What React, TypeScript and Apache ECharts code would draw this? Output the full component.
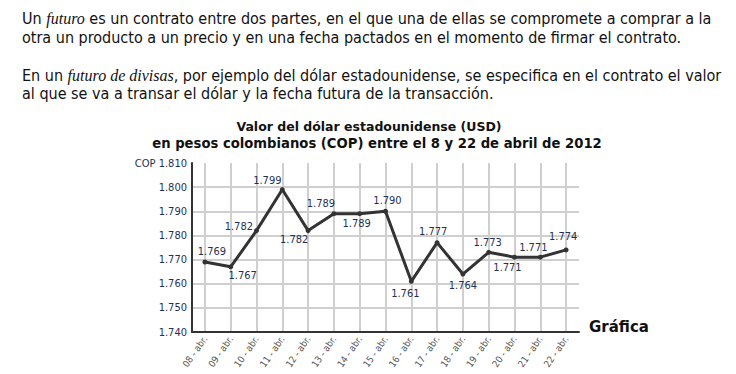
import React, { useEffect, useRef } from "react";
import * as echarts from "echarts";

const categories = [
  "08 - abr.", "09 - abr.", "10 - abr.", "11 - abr.", "12 - abr.",
  "13 - abr.", "14 - abr.", "15 - abr.", "16 - abr.", "17 - abr.",
  "18 - abr.", "19 - abr.", "20 - abr.", "21 - abr.", "22 - abr.",
];
const values = [1769, 1767, 1782, 1799, 1782, 1789, 1789, 1790, 1761, 1777, 1764, 1773, 1771, 1771, 1774];
const yMin = 1740;
const yMax = 1810;
const yStep = 10;

const titleLines = [
  "Valor del dólar estadounidense (USD)",
  "en pesos colombianos (COP) entre el 8 y 22 de abril de 2012",
];

// label placement per point (style only)
const labelPlacement: { pos: string; off: [number, number] }[] = [
  { pos: "top", off: [7, 1] },
  { pos: "bottom", off: [12, -2] },
  { pos: "left", off: [2, -4] },
  { pos: "top", off: [-15, 2] },
  { pos: "bottom", off: [-14, -2] },
  { pos: "top", off: [-13, 1] },
  { pos: "bottom", off: [-3, -1] },
  { pos: "top", off: [2, 0] },
  { pos: "bottom", off: [-6, 1] },
  { pos: "top", off: [-4, 0] },
  { pos: "bottom", off: [0, 0] },
  { pos: "top", off: [-1, 1] },
  { pos: "bottom", off: [-7, -1] },
  { pos: "top", off: [-7, 1] },
  { pos: "top", off: [-3, -2] },
];

const fmt = (v: number) => {
  const s = String(v);
  return s.slice(0, s.length - 3) + "." + s.slice(s.length - 3);
};

const NAVY = "#1f3158";
const NARROW = "'Liberation Sans Narrow', 'DejaVu Sans Condensed', 'Liberation Sans', sans-serif";

export default function App() {
  const ref = useRef<HTMLDivElement>(null);
  useEffect(() => {
    if (!ref.current) return;
    const chart = echarts.init(ref.current, null, { renderer: "svg" });
    const nTicks = Math.round((yMax - yMin) / yStep) + 1;
    const splitColors = Array.from({ length: nTicks }, (_, i) =>
      i === nTicks - 1 ? "rgba(0,0,0,0)" : "#cfcfcf"
    );
    const bodyFont = "'Liberation Sans Narrow', 'DejaVu Sans Condensed', sans-serif";
    const rich = {
      n: { fontFamily: bodyFont, fontSize: 16, fill: "#111" },
      i: { fontFamily: "'Liberation Serif', serif", fontStyle: "italic", fontSize: 16, fill: "#111" },
    };
    chart.setOption({
      animation: false,
      graphic: [
        {
          type: "text",
          left: 22,
          top: 9,
          style: {
            text:
              "{n|Un }{i|futuro}{n| es un contrato entre dos partes, en el que una de ellas se compromete a comprar a la}\n{n|otra un producto a un precio y en una fecha pactados en el momento de firmar el contrato.}",
            rich,
            lineHeight: 19,
          },
        },
        {
          type: "text",
          left: 22,
          top: 66,
          style: {
            text:
              "{n|En un }{i|futuro de divisas}{n|, por ejemplo del dólar estadounidense, se especifica en el contrato el valor}\n{n|al que se va a transar el dólar y la fecha futura de la transacción.}",
            rich,
            lineHeight: 18,
          },
        },
        {
          type: "text",
          x: 369,
          y: 126,
          style: {
            text: titleLines[0],
            fontFamily: "'DejaVu Sans', sans-serif",
            fontWeight: "bold",
            fontSize: 12.5,
            fill: "#111",
            textAlign: "center",
            textVerticalAlign: "middle",
          },
        },
        {
          type: "text",
          x: 377,
          y: 143,
          style: {
            text: titleLines[1],
            fontFamily: "'DejaVu Sans', sans-serif",
            fontWeight: "bold",
            fontSize: 13.2,
            fill: "#111",
            textAlign: "center",
            textVerticalAlign: "middle",
          },
        },
        {
          type: "text",
          x: 589,
          y: 327,
          style: {
            text: "Gráfica",
            fontFamily: "'DejaVu Sans', sans-serif",
            fontWeight: "bold",
            fontSize: 15,
            fill: "#111",
            textVerticalAlign: "middle",
          },
        },
      ],
      grid: { left: 192, right: 157, top: 163, bottom: 42, containLabel: false },
      xAxis: {
        type: "category",
        data: categories,
        boundaryGap: true,
        axisLine: { show: true, lineStyle: { color: "#333", width: 2 } },
        axisTick: { show: false },
        splitLine: { show: false },
        axisLabel: {
          rotate: 55,
          interval: 0,
          margin: 5,
          fontSize: 9.5,
          color: "#555",
          fontFamily: NARROW,
        },
      },
      yAxis: {
        type: "value",
        min: yMin,
        max: yMax,
        interval: yStep,
        axisLine: { show: true, lineStyle: { color: "#333", width: 2 } },
        axisTick: { show: false },
        splitLine: { show: true, lineStyle: { color: splitColors, width: 2 } },
        axisLabel: {
          margin: 5,
          fontSize: 11,
          color: NAVY,
          fontFamily: NARROW,
          formatter: (v: number) => (v === yMax ? "COP " + fmt(v) : fmt(v)),
        },
      },
      series: [
        {
          type: "line",
          data: [],
          z: 0,
          zlevel: 0,
          silent: true,
          markLine: {
            silent: true,
            z: 0,
            symbol: ["none", "none"],
            label: { show: false },
            lineStyle: { color: "#cfcfcf", width: 2, type: "solid" },
            data: categories.map((c) => ({ xAxis: c })),
          },
        },
        {
          type: "line",
          z: 5,
          data: values.map((v, i) => ({
            value: v,
            label: {
              position: labelPlacement[i].pos,
              offset: labelPlacement[i].off,
            },
          })),
          symbol: "circle",
          symbolSize: 5,
          lineStyle: { color: "#333", width: 3 },
          itemStyle: { color: "#333" },
          label: {
            show: true,
            distance: 3,
            fontSize: 11,
            color: NAVY,
            fontFamily: NARROW,
            formatter: (p: any) => fmt(p.value),
          },
        },
      ],
    });
    return () => chart.dispose();
  }, []);
  return (
    <div
      ref={ref}
      style={{ position: "fixed", left: 0, top: 0, width: 736, height: 374, background: "#fff" }}
    />
  );
}
